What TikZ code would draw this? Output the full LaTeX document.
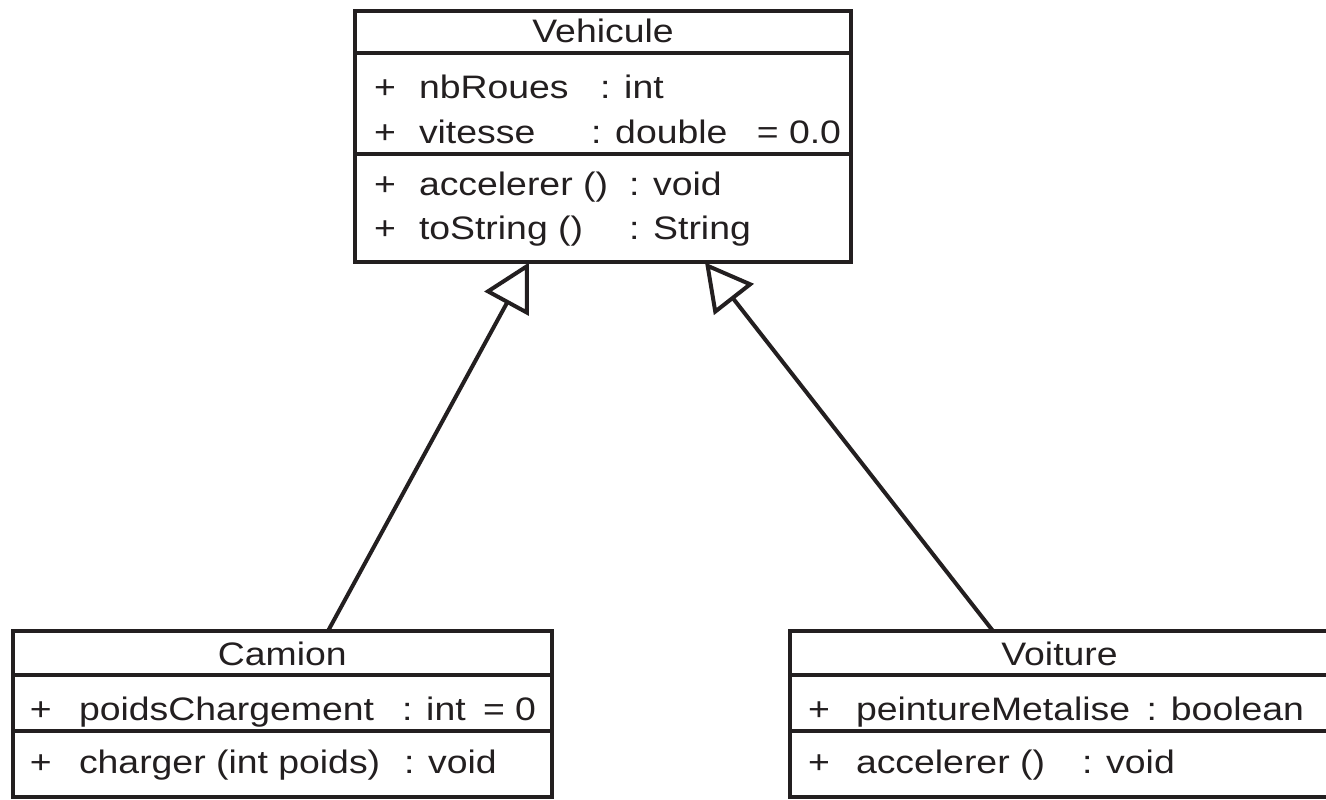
\documentclass[tikz,border=0pt]{standalone}
\usepackage{fontspec}
\setmainfont{Liberation Sans}[FakeStretch=1.15]
\usetikzlibrary{arrows.meta}
\definecolor{umlink}{HTML}{231F20}

\begin{document}
\begin{tikzpicture}[x=0.02cm, y=-0.02cm, line width=0.08cm, color=umlink,
% common options for the class boxes:
classbox/.style = {rectangle, draw, fill=white, inner sep=0, outer sep=0},
% common options for the texts in the boxes:
member/.style = {anchor=base west, inner sep=0, font=\fontsize{18.5}{22}\selectfont},
lastcol/.style = {member, anchor=base east},
title/.style = {anchor=base, inner sep=0, font=\fontsize{18.5}{22}\selectfont},
% common options for the generalisation arrows:
inherit/.style = {-{Triangle[open, length=0.94cm, width=1cm]}, line join=miter}]
\useasboundingbox (0,0) rectangle (1326,800);
\node[classbox, minimum width=9.92cm, minimum height=5.03cm] (vehicule) at (603,136.75) {};
\node[classbox, minimum width=10.79cm, minimum height=3.32cm] (camion) at (282.35,714) {};
\node[classbox, minimum width=10.79cm, minimum height=3.32cm] (voiture) at (1059.5,714) {};
% compartments
\draw (vehicule.west |- 0,53) -- (vehicule.east |- 0,53);
\draw (vehicule.west |- 0,154) -- (vehicule.east |- 0,154);
\draw (camion.west |- 0,675) -- (camion.east |- 0,675);
\draw (camion.west |- 0,730.5) -- (camion.east |- 0,730.5);
\draw (voiture.west |- 0,675) -- (voiture.east |- 0,675);
\draw (voiture.west |- 0,730.5) -- (voiture.east |- 0,730.5);
% Vehicule
\node[title] (vName) at (603,43) {Vehicule};
\node[member] (vA1p) at (372,99) {+};
\node[member] (vA1n) at (417,99) {nbRoues};
\node[member] (vA1t) at (598,99) {: int};
\node[member] (vA2p) at (372,144) {+};
\node[member] (vA2n) at (417,144) {vitesse};
\node[member] (vA2t) at (589,144) {: double};
\node[lastcol] (vA2d) at (843,144) {= 0.0};
\node[member] (vM1p) at (372,196) {+};
\node[member] (vM1n) at (417,196) {accelerer ()};
\node[member] (vM1t) at (627,196) {: void};
\node[member] (vM2p) at (372,240) {+};
\node[member] (vM2n) at (417,240) {toString ()};
\node[member] (vM2t) at (627,240) {: String};
% Camion
\node[title] (cName) at (282.35,665) {Camion};
\node[member] (cA1p) at (28,720) {+};
\node[member] (cA1n) at (77,720) {poidsChargement};
\node[member] (cA1t) at (400,720) {: int};
\node[lastcol] (cA1d) at (538,720) {= 0};
\node[member] (cM1p) at (28,773) {+};
\node[member] (cM1n) at (77,773) {charger (int poids)};
\node[member] (cM1t) at (402,773) {: void};
% Voiture
\node[title] (tName) at (1059.5,665) {Voiture};
\node[member] (tA1p) at (806,720) {+};
\node[member] (tA1n) at (854,720) {peintureMetalise};
\node[lastcol] (tA1t) at (1306,720) {: boolean};
\node[member] (tM1p) at (806,773) {+};
\node[member] (tM1n) at (854,773) {accelerer ()};
\node[member] (tM1t) at (1080,773) {: void};
% generalisations
\draw[inherit] (camion.north -| 328,0) -- (vehicule.south -| 529,0);
\draw[inherit] (voiture.north -| 993,0) -- (vehicule.south -| 705,0);
\end{tikzpicture}
\end{document}
